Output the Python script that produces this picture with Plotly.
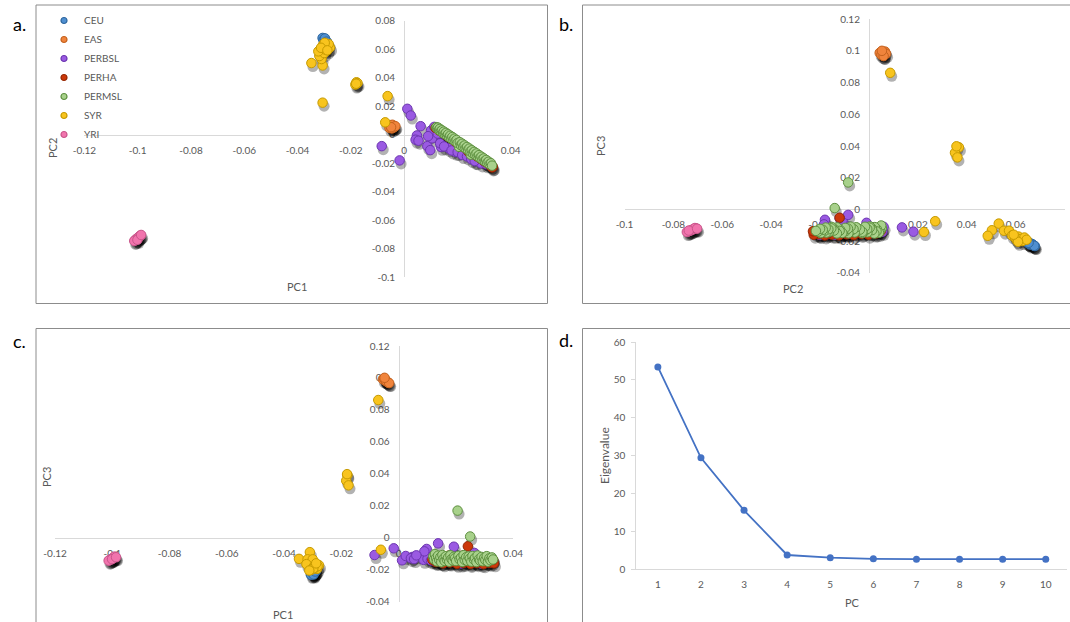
import plotly.graph_objects as go

W, H = 1070, 622
FONT = "Lato"
TICK_COLOR = "#595959"
AXIS_LINE = "#d9d9d9"

# ------------------------------------------------------------------ data
populations = ["CEU", "EAS", "PERBSL", "PERHA", "PERMSL", "SYR", "YRI"]

ceu_pc1 = [-0.0301, -0.0296, -0.0304, -0.0292, -0.0299, -0.0306, -0.0294, -0.0289, -0.0298, -0.0302, -0.0297, -0.0291]
ceu_pc2 = [0.0665, 0.0658, 0.0674, 0.0651, 0.0668, 0.0679, 0.0655, 0.0648, 0.0672, 0.0662, 0.0676, 0.0653]
ceu_pc3 = [-0.0218, -0.0222, -0.0228, -0.0212, -0.0220, -0.0232, -0.0214, -0.0209, -0.0226, -0.0217, -0.0230, -0.0211]

eas_pc1 = [-0.0048, -0.0042, -0.0055, -0.0036, -0.0046, -0.0051, -0.0039, -0.0044, -0.0033, -0.0049]
eas_pc2 = [0.0055, 0.0062, 0.0048, 0.0058, 0.0044, 0.0066, 0.0051, 0.0070, 0.0060, 0.0053]
eas_pc3 = [0.0985, 0.0978, 0.0992, 0.0970, 0.0988, 0.0996, 0.0975, 0.0982, 0.0968, 0.1001]

perbsl_pc1 = [0.0012, 0.0025, -0.0084, -0.0017, 0.0048, 0.0043, 0.0054, 0.0087, 0.0098, 0.0105,
              0.0101, 0.0113, 0.0138, 0.0168, 0.0193, 0.0090, 0.0135, 0.0150, 0.0178, 0.0201,
              0.0218, 0.0236, 0.0252, 0.0271, 0.0289, 0.0308, 0.0121, 0.0126, 0.0062, 0.0265]
perbsl_pc2 = [0.0182, 0.0135, -0.0080, -0.0180, -0.0005, -0.0035, -0.0042, -0.0080, -0.0108, -0.0025,
              0.0030, 0.0055, -0.0085, -0.0095, -0.0120, -0.0010, -0.0060, -0.0082, -0.0110, -0.0122,
              -0.0142, -0.0152, -0.0171, -0.0186, -0.0201, -0.0207, 0.0041, 0.0008, 0.0060, -0.0184]
perbsl_pc3 = [-0.0141, -0.0114, -0.0108, -0.0066, -0.0120, -0.0128, -0.0133, -0.0138, -0.0070, -0.0122,
              -0.0131, -0.0142, -0.0035, -0.0150, -0.0056, -0.0085, -0.0140, -0.0152, -0.0148, -0.0155,
              -0.0161, -0.0146, -0.0157, -0.0151, -0.0162, -0.0153, -0.0129, -0.0146, -0.0110, -0.0095]

perha_pc1 = [0.0242, 0.0118, 0.0131, 0.0143, 0.0156, 0.0167, 0.0179, 0.0192, 0.0204, 0.0215, 0.0227,
             0.0238, 0.0251, 0.0263, 0.0274, 0.0286, 0.0297, 0.0309, 0.0318, 0.0326, 0.0333, 0.0330]
perha_pc2 = [-0.0120, 0.0048, 0.0030, 0.0016, -0.0002, -0.0016, -0.0031, -0.0048, -0.0062, -0.0077, -0.0091,
             -0.0105, -0.0122, -0.0137, -0.0152, -0.0166, -0.0181, -0.0195, -0.0207, -0.0218, -0.0226, -0.0229]
perha_pc3 = [-0.0053, -0.0138, -0.0152, -0.0145, -0.0160, -0.0141, -0.0155, -0.0149, -0.0163, -0.0142, -0.0158,
             -0.0150, -0.0164, -0.0146, -0.0159, -0.0151, -0.0165, -0.0148, -0.0157, -0.0150, -0.0160, -0.0138]

permsl_pc1 = [0.0121, 0.0124, 0.0127, 0.0131, 0.0134, 0.0138, 0.0142, 0.0146, 0.0149, 0.0153,
              0.0157, 0.0161, 0.0165, 0.0169, 0.0173, 0.0177, 0.0181, 0.0185, 0.0189, 0.0193,
              0.0197, 0.0206, 0.0201, 0.0209, 0.0213, 0.0218, 0.0222, 0.0227, 0.0231, 0.0236,
              0.0240, 0.0245, 0.0250, 0.0249, 0.0254, 0.0258, 0.0263, 0.0267, 0.0272, 0.0276,
              0.0281, 0.0285, 0.0290, 0.0294, 0.0299, 0.0303, 0.0308, 0.0312, 0.0317, 0.0321,
              0.0326, 0.0330]
permsl_pc2 = [0.0053, 0.0046, 0.0050, 0.0033, 0.0041, 0.0024, 0.0031, 0.0012, 0.0022, 0.0004,
              0.0013, -0.0006, 0.0003, -0.0017, -0.0007, -0.0027, -0.0016, -0.0036, -0.0027, -0.0047,
              -0.0037, -0.0085, -0.0058, -0.0052, -0.0073, -0.0063, -0.0084, -0.0075, -0.0096, -0.0086,
              -0.0107, -0.0097, -0.0140, -0.0118, -0.0109, -0.0130, -0.0120, -0.0141, -0.0131, -0.0152,
              -0.0143, -0.0163, -0.0154, -0.0174, -0.0166, -0.0185, -0.0177, -0.0197, -0.0189, -0.0208,
              -0.0200, -0.0217]
permsl_pc3 = [-0.0118, -0.0135, -0.0102, -0.0127, -0.0148, -0.0112, -0.0139, -0.0121, -0.0153, -0.0108,
              -0.0131, -0.0145, -0.0116, -0.0137, -0.0124, -0.0150, -0.0110, -0.0133, -0.0142, -0.0119,
              -0.0128, 0.0170, -0.0146, -0.0113, -0.0135, -0.0125, -0.0151, -0.0109, -0.0138, -0.0122,
              -0.0144, -0.0117, 0.0008, -0.0130, -0.0149, -0.0114, -0.0136, -0.0127, -0.0152, -0.0111,
              -0.0134, -0.0143, -0.0120, -0.0147, -0.0126, -0.0139, -0.0115, -0.0150, -0.0129, -0.0141,
              -0.0123, -0.0136]

syr_pc1 = [-0.0071, -0.0179, -0.0183, -0.0175, -0.0180, -0.0062, -0.0306, -0.0348, -0.0306, -0.0310, -0.0318,
           -0.0300, -0.0322, -0.0296, -0.0285, -0.0278, -0.0292, -0.0305, -0.0283, -0.0298, -0.0312, -0.0288]
syr_pc2 = [0.0087, 0.0368, 0.0352, 0.0362, 0.0358, 0.0271, 0.0225, 0.0503, 0.0486, 0.0531, 0.0552,
           0.0573, 0.0585, 0.0598, 0.0605, 0.0612, 0.0620, 0.0628, 0.0636, 0.0645, 0.0610, 0.0592]
syr_pc3 = [0.0862, 0.0392, 0.0357, 0.0328, 0.0398, -0.0075, -0.0143, -0.0132, -0.0167, -0.0090, -0.0135,
           -0.0135, -0.0165, -0.0180, -0.0195, -0.0172, -0.0188, -0.0200, -0.0178, -0.0192, -0.0205, -0.0160]

yri_pc1 = [-0.1003, -0.0996, -0.1010, -0.0990, -0.1006, -0.0999, -0.1013, -0.0993, -0.1001, -0.0987]
yri_pc2 = [-0.0728, -0.0718, -0.0740, -0.0708, -0.0733, -0.0722, -0.0745, -0.0712, -0.0737, -0.0703]
yri_pc3 = [-0.0132, -0.0125, -0.0140, -0.0120, -0.0136, -0.0128, -0.0143, -0.0118, -0.0134, -0.0122]

eigen_pc = [1, 2, 3, 4, 5, 6, 7, 8, 9, 10]
eigen_values = [53.4, 29.4, 15.5, 3.7, 3.0, 2.7, 2.6, 2.6, 2.6, 2.6]

pc1_ticks = [-0.12, -0.1, -0.08, -0.06, -0.04, -0.02, 0, 0.02, 0.04]
pc1_labels = ["-0.12", "-0.1", "-0.08", "-0.06", "-0.04", "-0.02", "0", "0.02", "0.04"]
pc2_ticks = [-0.1, -0.08, -0.06, -0.04, -0.02, 0, 0.02, 0.04, 0.06, 0.08]
pc2_labels = ["-0.1", "-0.08", "-0.06", "-0.04", "-0.02", "0", "0.02", "0.04", "0.06", "0.08"]
pc3_ticks = [-0.04, -0.02, 0, 0.02, 0.04, 0.06, 0.08, 0.1, 0.12]
pc3_labels = ["-0.04", "-0.02", "0", "0.02", "0.04", "0.06", "0.08", "0.1", "0.12"]
eigen_ticks = [0, 10, 20, 30, 40, 50, 60]

# ------------------------------------------------------------------ style
fill = {"CEU": "#4f8fd0", "EAS": "#f0843c", "PERBSL": "#9a5ae2", "PERHA": "#cc380a",
        "PERMSL": "#a8d18b", "SYR": "#f8c41e", "YRI": "#f174ad"}
edge = {"CEU": "#2f679f", "EAS": "#c4621f", "PERBSL": "#6c36b0", "PERHA": "#962804",
        "PERMSL": "#5e9040", "SYR": "#c69a00", "YRI": "#c9568b"}

pcs = {
    "pc1": {"CEU": ceu_pc1, "EAS": eas_pc1, "PERBSL": perbsl_pc1, "PERHA": perha_pc1,
            "PERMSL": permsl_pc1, "SYR": syr_pc1, "YRI": yri_pc1},
    "pc2": {"CEU": ceu_pc2, "EAS": eas_pc2, "PERBSL": perbsl_pc2, "PERHA": perha_pc2,
            "PERMSL": permsl_pc2, "SYR": syr_pc2, "YRI": yri_pc2},
    "pc3": {"CEU": ceu_pc3, "EAS": eas_pc3, "PERBSL": perbsl_pc3, "PERHA": perha_pc3,
            "PERMSL": permsl_pc3, "SYR": syr_pc3, "YRI": yri_pc3},
}
tick_sets = {"pc1": (pc1_ticks, pc1_labels), "pc2": (pc2_ticks, pc2_labels), "pc3": (pc3_ticks, pc3_labels)}


def fx(px):
    return px / W


def fy(py):
    return 1 - py / H


# scatter panels: axis keys, pixel extents of the plot area, ranges
panels = [
    dict(ax="", xk="pc1", yk="pc2", xr=(-0.12, 0.04), yr=(-0.1, 0.08),
         xpx=(84.4, 510.7), ypx=(20.7, 277.3)),
    dict(ax="2", xk="pc2", yk="pc3", xr=(-0.1, 0.08), yr=(-0.04, 0.12),
         xpx=(624.5, 1064.5), ypx=(19.3, 272.7)),
    dict(ax="3", xk="pc1", yk="pc3", xr=(-0.12, 0.04), yr=(-0.04, 0.12),
         xpx=(55.1, 513.1), ypx=(346.0, 601.7)),
]

fig = go.Figure()
layout = dict(
    width=W, height=H, margin=dict(l=0, r=0, t=0, b=0, pad=0, autoexpand=False),
    paper_bgcolor="white", plot_bgcolor="rgba(0,0,0,0)",
    font=dict(family=FONT, color=TICK_COLOR),
    showlegend=True,
)

MSIZE = 9.5
for p in panels:
    xa = "x" + p["ax"]
    ya = "y" + p["ax"]
    xdom = [fx(p["xpx"][0]), fx(p["xpx"][1])]
    ydom = [fy(p["ypx"][1]), fy(p["ypx"][0])]
    # where the opposite axis crosses zero (paper coords)
    xpos_for_xaxis = ydom[0] + (0 - p["yr"][0]) / (p["yr"][1] - p["yr"][0]) * (ydom[1] - ydom[0])
    ypos_for_yaxis = xdom[0] + (0 - p["xr"][0]) / (p["xr"][1] - p["xr"][0]) * (xdom[1] - xdom[0])

    # soft drop shadow (Excel style): same points, nudged by a few pixels
    dx_per_px = (p["xr"][1] - p["xr"][0]) / (p["xpx"][1] - p["xpx"][0])
    dy_per_px = (p["yr"][1] - p["yr"][0]) / (p["ypx"][1] - p["ypx"][0])
    sx, sy = [], []
    for pop in populations:
        sx += [v + 1.5 * dx_per_px for v in pcs[p["xk"]][pop]]
        sy += [v - 3.5 * dy_per_px for v in pcs[p["yk"]][pop]]
    fig.add_trace(go.Scatter(x=sx, y=sy, mode="markers", xaxis=xa, yaxis=ya, showlegend=False,
                             hoverinfo="skip",
                             marker=dict(size=MSIZE + 1.5, color="rgba(0,0,0,0.3)", line=dict(width=0))))

    for pop in populations:
        fig.add_trace(go.Scatter(
            x=pcs[p["xk"]][pop], y=pcs[p["yk"]][pop], mode="markers", name=pop,
            xaxis=xa, yaxis=ya, showlegend=False,
            marker=dict(size=MSIZE, color=fill[pop], line=dict(width=1, color=edge[pop])),
        ))

    xt, xl = tick_sets[p["xk"]]
    yt, yl = tick_sets[p["yk"]]
    common = dict(showgrid=False, zeroline=False, showline=True, linecolor=AXIS_LINE, linewidth=1,
                  ticks="", layer="below traces", anchor="free", automargin=False,
                  tickfont=dict(family=FONT, size=10, color=TICK_COLOR))
    layout["xaxis" + p["ax"]] = dict(common, domain=xdom, range=list(p["xr"]), position=xpos_for_xaxis,
                                     tickvals=xt, ticktext=xl, side="bottom", ticklabelstandoff=6)
    layout["yaxis" + p["ax"]] = dict(common, domain=ydom, range=list(p["yr"]), position=ypos_for_yaxis,
                                     tickvals=yt, ticktext=yl, side="left", ticklabelstandoff=7)

# legend entries (panel a)
for pop in populations:
    fig.add_trace(go.Scatter(x=[None], y=[None], mode="markers", name=pop, xaxis="x", yaxis="y",
                             showlegend=True,
                             marker=dict(size=6, color=fill[pop], line=dict(width=1.2, color=edge[pop]))))

# panel d: scree plot
fig.add_trace(go.Scatter(x=eigen_pc, y=eigen_values, mode="lines+markers", xaxis="x4", yaxis="y4",
                         showlegend=False, line=dict(color="#4472c4", width=1.8),
                         marker=dict(size=7, color="#4472c4")))
layout["xaxis4"] = dict(domain=[fx(636.3), fx(1067.3)], range=[0.5, 10.5], anchor="y4",
                        tickvals=eigen_pc, ticktext=[str(v) for v in eigen_pc], automargin=False,
                        showgrid=False, zeroline=False, showline=True, linecolor=AXIS_LINE, ticks="",
                        tickfont=dict(family=FONT, size=10, color=TICK_COLOR), ticklabelstandoff=6)
layout["yaxis4"] = dict(domain=[fy(569), fy(342)], range=[0, 60], anchor="x4", automargin=False,
                        tickvals=eigen_ticks, showgrid=False, zeroline=False, showline=True,
                        linecolor=AXIS_LINE, ticks="outside", ticklen=4, tickcolor=AXIS_LINE,
                        tickfont=dict(family=FONT, size=10, color=TICK_COLOR), ticklabelstandoff=4)

layout["legend"] = dict(x=fx(44), y=fy(6), xanchor="left", yanchor="top", bgcolor="rgba(0,0,0,0)",
                        font=dict(family=FONT, size=10, color=TICK_COLOR), tracegroupgap=0)

# panel frames
frame = dict(type="rect", xref="paper", yref="paper", line=dict(color="#8c8c8c", width=1),
             fillcolor="rgba(0,0,0,0)", layer="below")
layout["shapes"] = [
    dict(frame, x0=fx(36), x1=fx(547.5), y0=fy(303.5), y1=fy(5)),
    dict(frame, x0=fx(582.5), x1=fx(1080), y0=fy(303.5), y1=fy(5)),
    dict(frame, x0=fx(36), x1=fx(547.5), y0=fy(640), y1=fy(328.5)),
    dict(frame, x0=fx(582.5), x1=fx(1080), y0=fy(640), y1=fy(328.5)),
]


def ann(text, x, y, size=11, color=TICK_COLOR, angle=0):
    return dict(text=text, x=fx(x), y=fy(y), xref="paper", yref="paper", showarrow=False,
                xanchor="center", yanchor="middle", textangle=angle,
                font=dict(family=FONT, size=size, color=color))


layout["annotations"] = [
    ann("a.", 19, 24, size=18, color="black"),
    ann("b.", 566, 24, size=18, color="black"),
    ann("c.", 19, 341, size=18, color="black"),
    ann("d.", 566, 340, size=18, color="black"),
    ann("PC1", 297, 287),
    ann("PC2", 52, 148, angle=-90),
    ann("PC2", 793, 288),
    ann("PC3", 600, 146, angle=-90),
    ann("PC1", 283, 614),
    ann("PC3", 46, 477, angle=-90),
    ann("PC", 852, 602),
    ann("Eigenvalue", 604, 456, size=12, angle=-90),
]

fig.update_layout(**layout)
fig.write_html(
    "out.html",
    config={"displayModeBar": False},
    post_script="document.body.style.margin='0';document.body.style.overflow='hidden';",
)
